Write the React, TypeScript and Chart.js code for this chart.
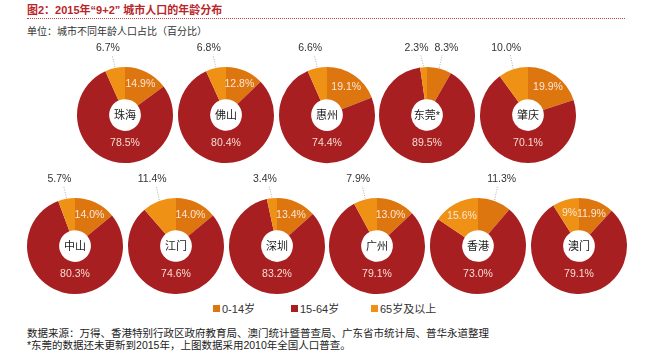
import React, { useEffect, useRef } from "react";
import { Chart, registerables } from "chart.js";

Chart.register(...registerables);

const cities = ["珠海", "佛山", "惠州", "东莞*", "肇庆", "中山", "江门", "深圳", "广州", "香港", "澳门"];
const age0to14 = ["14.9", "12.8", "19.1", "8.3", "19.9", "14.0", "14.0", "13.4", "13.0", "11.3", "11.9"];
const age15to64 = ["78.5", "80.4", "74.4", "89.5", "70.1", "80.3", "74.6", "83.2", "79.1", "73.0", "79.1"];
const age65plus = ["6.7", "6.8", "6.6", "2.3", "10.0", "5.7", "11.4", "3.4", "7.9", "15.6", "9"];
const seriesNames = ["0-14岁", "15-64岁", "65岁及以上"];
// slices whose label sits outside the ring (0 = 0-14岁, 2 = 65岁及以上)
const outsideSlices = [[2], [2], [2], [0, 2], [2], [2], [2], [2], [2], [0], []];

const COLORS = ["#DE7610", "#A81F22", "#EE9114"];
const LATIN = '"Liberation Sans", Arial, "Noto Sans CJK SC", sans-serif';
const CJK = '"Liberation Sans", "Noto Sans CJK SC", sans-serif';

const CW = 100;
const CH = 130;
const PAD_TOP = 32;

function Donut({ idx, cx, cy }: { idx: number; cx: number; cy: number }) {
  const ref = useRef<HTMLCanvasElement | null>(null);
  useEffect(() => {
    if (!ref.current) return;
    const labels = [age0to14[idx], age15to64[idx], age65plus[idx]];
    const outside = outsideSlices[idx];
    const labelPlugin = {
      id: "donutLabels",
      afterDraw(chart: any) {
        const ctx = chart.ctx as CanvasRenderingContext2D;
        const meta = chart.getDatasetMeta(0);
        let center = { x: 0, y: 0, r: 0 };
        meta.data.forEach((arc: any, i: number) => {
          const p = arc.getProps(["x", "y", "startAngle", "endAngle", "outerRadius", "innerRadius"], true);
          const mid = (p.startAngle + p.endAngle) / 2;
          const R = p.outerRadius;
          center = { x: p.x, y: p.y, r: R };
          const text = labels[i] + "%";
          ctx.save();
          ctx.textAlign = "center";
          ctx.textBaseline = "middle";
          ctx.font = `10.5px ${LATIN}`;
          if (outside.includes(i)) {
            const ex = p.x + Math.cos(mid) * R;
            const ey = p.y + Math.sin(mid) * R;
            const side = Math.cos(mid) >= 0 ? 1 : -1;
            const lx = ex + side * 7;
            const ly = p.y - R - 19;
            ctx.strokeStyle = "#9a9a9a";
            ctx.lineWidth = 0.8;
            ctx.setLineDash([1, 1.5]);
            ctx.beginPath();
            ctx.moveTo(ex, ey - 1);
            ctx.lineTo(ex + (lx - ex) * 0.4, ly + 7);
            ctx.stroke();
            ctx.setLineDash([]);
            ctx.fillStyle = "#333";
            ctx.fillText(text, lx, ly);
          } else if (i === 1) {
            ctx.fillStyle = "#F6DCD0";
            ctx.fillText(text, p.x, p.y + R * 0.58);
          } else {
            const r = R * 0.71;
            ctx.fillStyle = "#FBE6D6";
            ctx.fillText(text, p.x + Math.cos(mid) * r, p.y + Math.sin(mid) * r);
          }
          ctx.restore();
        });
        ctx.save();
        ctx.textAlign = "center";
        ctx.textBaseline = "middle";
        ctx.fillStyle = "#1a1a1a";
        ctx.font = `11px ${CJK}`;
        ctx.fillText(cities[idx], center.x, center.y + 1);
        ctx.restore();
      },
    };
    const chart = new Chart(ref.current, {
      type: "doughnut",
      data: {
        labels: seriesNames,
        datasets: [
          {
            data: labels.map(Number),
            backgroundColor: COLORS,
            borderWidth: 0,
          },
        ],
      },
      options: {
        responsive: false,
        animation: false,
        cutout: "33%",
        events: [],
        layout: { padding: { top: PAD_TOP, bottom: 2, left: 2, right: 2 } },
        plugins: { legend: { display: false }, tooltip: { enabled: false } },
      },
      plugins: [labelPlugin],
    } as any);
    return () => chart.destroy();
  }, [idx]);
  return (
    <canvas
      ref={ref}
      width={CW}
      height={CH}
      style={{ position: "absolute", left: cx - CW / 2, top: cy - (PAD_TOP + 48), width: CW, height: CH }}
    />
  );
}

export default function App() {
  const positions = cities.map((_, i) =>
    i < 5 ? { cx: 125 + i * 100.8, cy: 115 } : { cx: 75 + (i - 5) * 100.8, cy: 246 }
  );
  return (
    <div
      style={{
        position: "fixed",
        left: 0,
        top: 0,
        width: 650,
        height: 358,
        background: "#fff",
        overflow: "hidden",
        fontFamily: CJK,
      }}
    >
      <div
        style={{
          position: "absolute",
          left: 27,
          top: 3,
          fontSize: 11,
          lineHeight: "14px",
          fontWeight: "bold",
          color: "#B8262B",
          whiteSpace: "nowrap",
        }}
      >
        图2：2015年“9+2” 城市人口的年龄分布
      </div>
      <div style={{ position: "absolute", left: 27, top: 18, width: 598, borderTop: "1px dotted #B8464A" }} />
      <div
        style={{
          position: "absolute",
          left: 27,
          top: 25,
          fontSize: 10,
          lineHeight: "14px",
          color: "#333",
          whiteSpace: "nowrap",
        }}
      >
        单位：城市不同年龄人口占比（百分比）
      </div>
      {positions.map((p, i) => (
        <Donut key={i} idx={i} cx={p.cx} cy={p.cy} />
      ))}
      {seriesNames.map((name, i) => (
        <div
          key={name}
          style={{
            position: "absolute",
            left: [213, 291, 371][i],
            top: 301,
            height: 14,
            display: "flex",
            alignItems: "center",
            fontSize: 11,
            color: "#333",
            whiteSpace: "nowrap",
          }}
        >
          <span style={{ display: "inline-block", width: 7, height: 7, background: COLORS[i], marginRight: 2 }} />
          {name}
        </div>
      ))}
      <div
        style={{
          position: "absolute",
          left: 27,
          top: 327,
          fontSize: 10.5,
          lineHeight: "12px",
          color: "#222",
          whiteSpace: "nowrap",
        }}
      >
        数据来源：万得、香港特别行政区政府教育局、澳门统计暨普查局、广东省市统计局、普华永道整理
        <br />
        *东莞的数据还未更新到2015年，上图数据采用2010年全国人口普查。
      </div>
    </div>
  );
}
